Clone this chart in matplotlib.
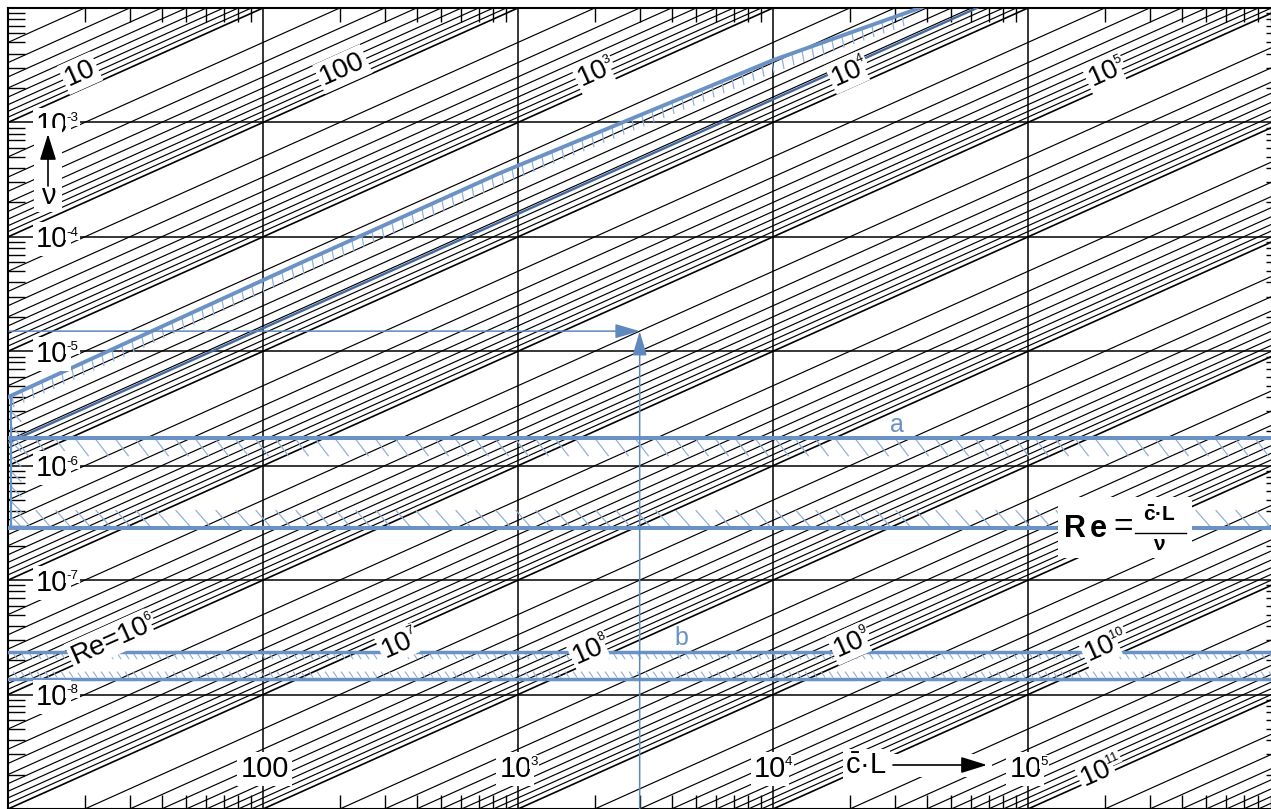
import numpy as np
import matplotlib
matplotlib.use("Agg")
import matplotlib.pyplot as plt
from matplotlib.ticker import LogLocator, NullFormatter
from matplotlib.collections import LineCollection
from matplotlib.patches import Rectangle
from matplotlib.lines import Line2D
from matplotlib.textpath import TextPath
from matplotlib.font_manager import FontProperties

plt.rcParams['font.family'] = ['Liberation Sans', 'DejaVu Sans']
plt.rcParams['mathtext.fontset'] = 'custom'
plt.rcParams['mathtext.rm'] = 'Liberation Sans'
plt.rcParams['mathtext.it'] = 'Liberation Sans'
plt.rcParams['mathtext.bf'] = 'Liberation Sans:bold'

W, H = 1271, 809

# axis ranges
cl_lim = [10, 1e6]
nu_lim = [1e-9, 1e-2]
unit = 1e-3          # Re = c*L*unit / nu

# Re lines m*10^k
re_mult = [1, 2, 3, 4, 5, 6, 7, 8, 9]
re_exp = list(range(0, 12))

# labelled Re lines (exponent) and where the label sits (c*L, nu)
lab_top_exp = [1, 2, 3, 4, 5]
lab_top_cl = [18.7, 200, 1990, 1.97e4, 2.0e5]
lab_top_nu = [2.81e-3, 3.05e-3, 2.87e-3, 2.93e-3, 2.87e-3]
lab_bot_exp = [6, 7, 8, 9, 10, 11]
lab_bot_cl = [25.4, 338, 1897, 2.0e4, 1.99e5, 1.91e5]
lab_bot_nu = [3.18e-8, 2.93e-8, 2.6e-8, 2.99e-8, 2.81e-8, 2.27e-9]

# axis value labels
nu_label_exp = [-3, -4, -5, -6, -7, -8]
cl_label_exp = [2, 3, 4, 5]

# blue overlays
trans_cl = [10, 140, 850, 1.0e4, 4.0e4]          # upper transition boundary
trans_nu = [3.98e-6, 5.9e-5, 3.61e-4, 3.5e-3, 1.05e-2]
re_turb = 6300                                   # lower transition line
band_a = [1.74e-6, 2.85e-7]
band_b = [2.35e-8, 1.38e-8]
ex_cl, ex_nu = 3000, 1.5e-5     # example reading

BLUE = '#6a92c5'
DBLUE = '#44699f'
LBLUE = '#8fb1da'


def fpx(x, y):
    return (x / W, 1 - y / H)


def power_label(ax, x, y, base, exp, size, rot, color='black', z=6):
    fp = FontProperties(family='Liberation Sans')
    wb = TextPath((0, 0), base, size=size, prop=fp).get_extents().width
    es = size * 0.46
    we = TextPath((0, 0), exp, size=es, prop=fp).get_extents().width if exp else 0
    gap = 0.07 * size if exp else 0
    tot = wb + gap + we
    a = np.radians(rot)
    u = np.array([np.cos(a), np.sin(a)])
    n = np.array([-np.sin(a), np.cos(a)])
    o = -tot / 2 * u - 0.36 * size * n
    box = dict(boxstyle='square,pad=0.1', fc='white', ec='none')
    ax.annotate(base, (x, y), xytext=tuple(o), textcoords='offset points',
                rotation=rot, rotation_mode='anchor', ha='left', va='baseline',
                fontsize=size, color=color, bbox=box, zorder=z)
    if exp:
        oe = o + (wb + gap) * u + 0.40 * size * n
        ax.annotate(exp, (x, y), xytext=tuple(oe), textcoords='offset points',
                    rotation=rot, rotation_mode='anchor', ha='left', va='baseline',
                    fontsize=es, color=color, bbox=dict(boxstyle='square,pad=0.1', fc='white', ec='none'),
                    zorder=z)


def hatch(ax, cl, nu, a, b, **kw):
    p = ax.transData.transform(np.column_stack([cl, nu]))
    inv = ax.transData.inverted()
    segs = [inv.transform(np.array([q + a, q + b])) for q in p]
    ax.add_collection(LineCollection(segs, **kw))


fig = plt.figure(figsize=(W / 100, H / 100), dpi=100)
ax = fig.add_axes([8 / W, 0, 1275 / W, 801 / H])
ax.set_xscale('log')
ax.set_yscale('log')
ax.set_xlim(cl_lim)
ax.set_ylim(nu_lim)

# ticks and grid
ax.xaxis.set_major_locator(LogLocator(base=10, numticks=20))
ax.yaxis.set_major_locator(LogLocator(base=10, numticks=20))
ax.xaxis.set_minor_locator(LogLocator(base=10, subs=range(2, 10), numticks=20))
ax.yaxis.set_minor_locator(LogLocator(base=10, subs=range(2, 10), numticks=20))
ax.xaxis.set_minor_formatter(NullFormatter())
ax.yaxis.set_minor_formatter(NullFormatter())
ax.tick_params(which='both', direction='in', top=True, bottom=True, left=True, right=True,
               labelbottom=False, labelleft=False, labeltop=False, labelright=False)
ax.tick_params(which='major', length=0)
ax.tick_params(axis='x', which='minor', length=10, width=1.0)
ax.tick_params(axis='y', which='minor', length=12, width=1.0)
ax.grid(which='major', color='black', lw=1.1)
for s in ax.spines.values():
    s.set_linewidth(1.5)

# constant Re lines
for k in re_exp:
    for m in re_mult:
        re = m * 10.0 ** k
        ax.plot(cl_lim, [c * unit / re for c in cl_lim], color='black',
                lw=1.2 if m == 1 else 0.85, zorder=1)

# transition band (diagonal)
ax.plot(trans_cl, trans_nu, color=BLUE, lw=2.8, zorder=3, solid_joinstyle='round')
ax.plot(cl_lim, [c * unit / re_turb for c in cl_lim], color=DBLUE, lw=1.7, zorder=3)
tp = ax.transData.transform(np.column_stack([trans_cl, trans_nu]))
top_px = ax.transData.transform((10, nu_lim[1]))[1]
hx = np.arange(tp[0, 0] + 4, tp[-1, 0], 10)
hy = np.interp(hx, tp[:, 0], tp[:, 1])
ok = hy < top_px - 3
hd = ax.transData.inverted().transform(np.column_stack([hx[ok], hy[ok]]))
hatch(ax, hd[:, 0], hd[:, 1], (0, -1), (2, -12), color=LBLUE, lw=0.9, zorder=2.9)

# band a
for v in band_a:
    ax.axhline(v, color=BLUE, lw=2.9, zorder=3)
cl_a = 10 ** np.arange(1.03, 6, 20 / 255)
hatch(ax, cl_a, np.full(cl_a.size, band_a[0]), (0, -1), (13, -18), color=LBLUE, lw=0.9, zorder=2.9)
hatch(ax, cl_a, np.full(cl_a.size, band_a[1]), (0, 18), (15, 1), color=LBLUE, lw=0.9, zorder=2.9)

# left boundary of a-region
nu_left = [trans_nu[0], band_a[1]]
ax.plot([10.3, 10.3], nu_left, color=BLUE, lw=1.6, zorder=3)
nu_lh = 10 ** np.arange(np.log10(nu_left[1]) + 0.1, np.log10(nu_left[0]), 15 / 114.4)
hatch(ax, np.full(nu_lh.size, 10.3), nu_lh, (0, 0), (10, -10), color=LBLUE, lw=0.9, zorder=2.9)

# band b
for v in band_b:
    ax.axhline(v, color=BLUE, lw=2.5, zorder=3)
cl_b = 10 ** np.arange(1.02, 6, 8 / 255)
hatch(ax, cl_b, np.full(cl_b.size, band_b[0]), (0, -1), (4, -7), color=LBLUE, lw=0.8, zorder=2.9)
hatch(ax, cl_b, np.full(cl_b.size, band_b[1]), (0, 7), (4, 1), color=LBLUE, lw=0.8, zorder=2.9)

ax.text(30600, 2.26e-6, 'a', color=BLUE, fontsize=18, ha='center', va='center', zorder=4)
ax.text(4355, 3.11e-8, 'b', color=BLUE, fontsize=18, ha='center', va='center', zorder=4)

# example reading arrows
aprops = dict(arrowstyle='-|>,head_length=0.75,head_width=0.22', mutation_scale=20,
              color='#5f88bd', lw=1.1, shrinkA=0, shrinkB=0)
ax.annotate('', xy=(ex_cl, ex_nu), xytext=(cl_lim[0] * 1.01, ex_nu), arrowprops=aprops, zorder=4)
ax.annotate('', xy=(ex_cl, ex_nu), xytext=(ex_cl, nu_lim[0]), arrowprops=aprops, zorder=4)

# Re labels
p = ax.transData.transform([(100, 1e-5), (1000, 1e-4)])
ang = np.degrees(np.arctan2(p[1, 1] - p[0, 1], p[1, 0] - p[0, 0]))
for e, x, y in zip(lab_top_exp, lab_top_cl, lab_top_nu):
    if e == 1:
        power_label(ax, x, y, '10', '', 20, ang)
    elif e == 2:
        power_label(ax, x, y, '100', '', 20, ang)
    else:
        power_label(ax, x, y, '10', str(e), 20, ang)
for e, x, y in zip(lab_bot_exp, lab_bot_cl, lab_bot_nu):
    power_label(ax, x, y, 'Re=10' if e == 6 else '10', str(e), 20, ang)

# axis value labels
for e in nu_label_exp:
    power_label(ax, 15.5, 10.0 ** e, '10', '-' + str(-e), 21, 0)
for e in cl_label_exp:
    power_label(ax, 10.0 ** e, 2.37e-9, '100' if e == 2 else '10', '' if e == 2 else str(e), 21, 0)
ax.text(23200, 2.37e-9, r'$\bar{\mathrm{c}}$·L', fontsize=21, ha='center', va='center',
        zorder=6, bbox=dict(boxstyle='square,pad=0.1', fc='white', ec='none'))

# white patches behind arrows and formula
for (x0, y0, x1, y1) in [(888, 754, 992, 777), (34, 128, 62, 212), (1058, 497, 1192, 558)]:
    fig.patches.append(Rectangle(fpx(x0, y1), (x1 - x0) / W, (y1 - y0) / H,
                                 transform=fig.transFigure, fc='white', ec='none', zorder=1))

karrow = dict(arrowstyle='-|>,head_length=0.8,head_width=0.25', mutation_scale=20,
              color='black', lw=1.2, shrinkA=0, shrinkB=0)
fig.add_artist(matplotlib.text.Annotation('', xy=fpx(987, 765), xytext=fpx(893, 765),
                                          xycoords='figure fraction', arrowprops=karrow))
fig.add_artist(matplotlib.text.Annotation('', xy=fpx(48, 134), xytext=fpx(48, 186),
                                          xycoords='figure fraction', arrowprops=karrow))
fig.text(*fpx(48, 196), 'ν', fontsize=21, ha='center', va='center')

# formula box
fig.text(*fpx(1064, 529), 'R', fontsize=22, fontweight='bold', ha='left', va='center')
fig.text(*fpx(1090, 529), 'e', fontsize=22, fontweight='bold', ha='left', va='center')
fig.text(*fpx(1123, 528), '=', fontsize=24, ha='center', va='center')
fig.text(*fpx(1159, 515), r'$\mathbf{\bar{c}}$·L', fontsize=15, fontweight='bold',
         ha='center', va='center')
fig.add_artist(Line2D([1135 / W, 1186 / W], [1 - 533 / H, 1 - 533 / H], color='black', lw=1.0,
                      transform=fig.transFigure))
fig.text(*fpx(1159, 545), 'ν', fontsize=15, fontweight='bold', ha='center', va='center')

fig.savefig('out.png', dpi=100)
